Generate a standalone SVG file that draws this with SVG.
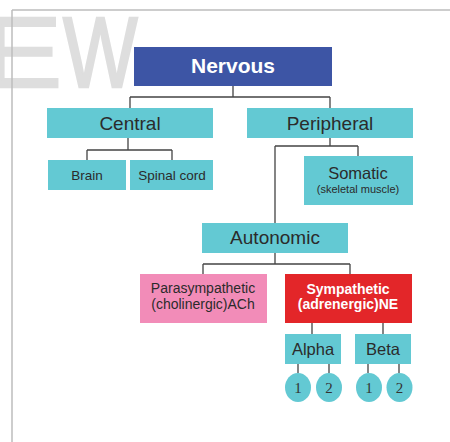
<svg xmlns="http://www.w3.org/2000/svg" width="450" height="442" viewBox="0 0 450 442">
<style>
.t{fill:#63c9d3}
.lbl{font-family:"Liberation Sans",Arial,sans-serif;fill:#2b2b2b;text-anchor:middle}
.w{font-family:"Liberation Sans",Arial,sans-serif;fill:#fff;text-anchor:middle;font-weight:bold}
.num{font-family:"Liberation Serif","Times New Roman",serif;fill:#333;text-anchor:middle;font-size:15px}
.c{stroke:#444;stroke-width:1.3;fill:none}
.wm{font-family:"Liberation Sans",Arial,sans-serif;fill:#dedede;stroke:#dedede;stroke-width:2.5;font-size:100px}
</style>
<rect width="450" height="442" fill="#fff"/>
<g id="watermark">
<text class="wm" transform="translate(-18,87) scale(1.2,1)">E</text>
<text class="wm" transform="translate(63,87) scale(0.79,1)">W</text>
</g>
<g id="frame">
<path d="M12,10 H450 M12,10 V442" stroke="#bdbdbd" stroke-width="1.5" fill="none"/>
</g>
<g id="connectors">
<path class="c" d="M233,86 V97 M130,97 H330 M130,97 V108 M330,97 V108"/>
<path class="c" d="M128,138 V150 M87,150 H172 M87,150 V160 M172,150 V160"/>
<path class="c" d="M330,138 V146 M275,146 H358 M275,146 V223 M358,146 V156"/>
<path class="c" d="M275,253 V264 M203,264 H350 M203,264 V274 M350,264 V274"/>
<path class="c" d="M312,323 V334 M383,323 V334"/>
<path class="c" d="M298,364 V373 M329,364 V373 M368,364 V373 M399,364 V373"/>
</g>
<g id="nervous">
<rect x="134" y="47" width="198" height="39" fill="#3d55a5"/>
<text class="w" x="233" y="73" font-size="21">Nervous</text>
</g>
<g id="central">
<rect class="t" x="47" y="108" width="166" height="30"/>
<text class="lbl" x="130" y="130" font-size="19">Central</text>
</g>
<g id="peripheral">
<rect class="t" x="247" y="108" width="166" height="30"/>
<text class="lbl" x="330" y="130" font-size="19">Peripheral</text>
</g>
<g id="brain">
<rect class="t" x="48" y="160" width="78" height="30"/>
<text class="lbl" x="87" y="180" font-size="13.5">Brain</text>
</g>
<g id="spinal">
<rect class="t" x="130" y="160" width="83" height="30"/>
<text class="lbl" x="172" y="180" font-size="13.5">Spinal cord</text>
</g>
<g id="somatic">
<rect class="t" x="304" y="156" width="109" height="49"/>
<text class="lbl" x="358" y="179" font-size="16.5">Somatic</text>
<text class="lbl" x="358" y="193" font-size="11">(skeletal muscle)</text>
</g>
<g id="autonomic">
<rect class="t" x="202" y="223" width="146" height="30"/>
<text class="lbl" x="275" y="244" font-size="19">Autonomic</text>
</g>
<g id="parasympathetic">
<rect x="140" y="274" width="127" height="49" fill="#f28cb8"/>
<text class="lbl" x="203" y="293" font-size="14">Parasympathetic</text>
<text class="lbl" x="203" y="309" font-size="14">(cholinergic)ACh</text>
</g>
<g id="sympathetic">
<rect x="285" y="274" width="127" height="49" fill="#e32629"/>
<text class="w" x="348" y="294" font-size="14">Sympathetic</text>
<text class="w" x="348" y="309" font-size="14">(adrenergic)NE</text>
</g>
<g id="alpha">
<rect class="t" x="285" y="334" width="56" height="30"/>
<text class="lbl" x="313" y="355" font-size="16.5">Alpha</text>
</g>
<g id="beta">
<rect class="t" x="355" y="334" width="56" height="30"/>
<text class="lbl" x="383" y="355" font-size="16.5">Beta</text>
</g>
<g id="alpha1">
<ellipse class="t" cx="298" cy="387.5" rx="13" ry="14.5"/>
<text class="num" x="298" y="393">1</text>
</g>
<g id="alpha2">
<ellipse class="t" cx="329" cy="387.5" rx="13" ry="14.5"/>
<text class="num" x="329" y="393">2</text>
</g>
<g id="beta1">
<ellipse class="t" cx="369" cy="387.5" rx="13" ry="14.5"/>
<text class="num" x="369" y="393">1</text>
</g>
<g id="beta2">
<ellipse class="t" cx="399.5" cy="387.5" rx="13" ry="14.5"/>
<text class="num" x="399.5" y="393">2</text>
</g>
</svg>
